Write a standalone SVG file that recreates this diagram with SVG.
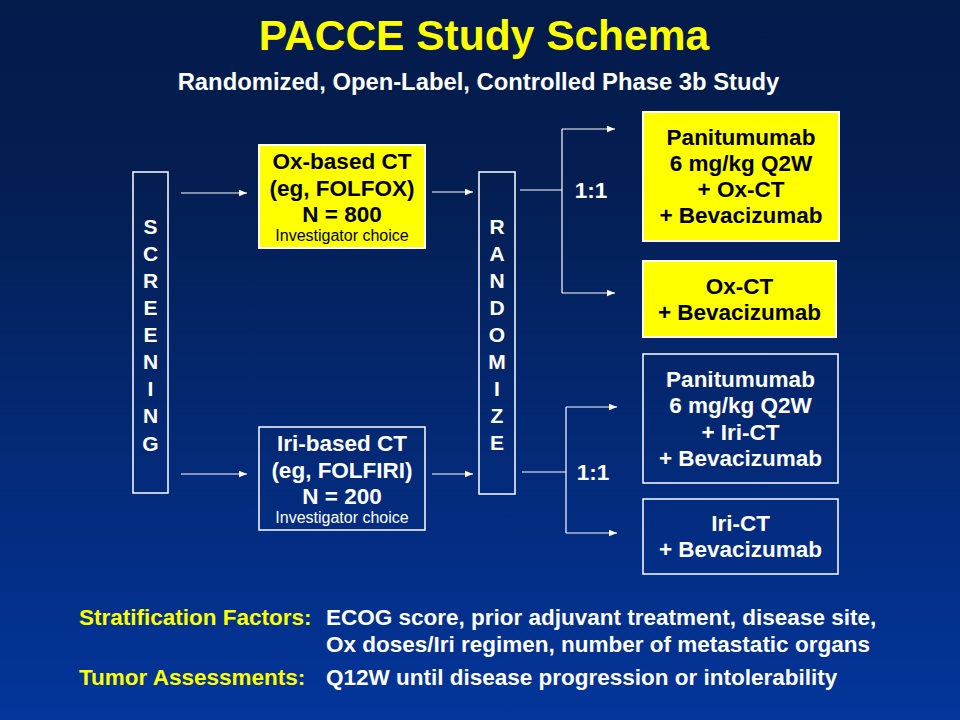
<svg xmlns="http://www.w3.org/2000/svg" width="960" height="720" viewBox="0 0 960 720">
<defs>
<linearGradient id="bg" x1="0" y1="0" x2="0" y2="1">
<stop offset="0" stop-color="#031b4b"/>
<stop offset="0.25" stop-color="#041e52"/>
<stop offset="1" stop-color="#03359b"/>
</linearGradient>
<marker id="ah" viewBox="0 0 10 10" refX="10" refY="5" markerWidth="8" markerHeight="8" markerUnits="userSpaceOnUse" orient="auto">
<path d="M0,1 L10,5 L0,9 z" fill="#ffffff"/>
</marker>
<style>
text{font-family:"Liberation Sans",Arial,sans-serif;font-weight:bold;}
.t{fill:#ffffff;font-size:22.5px;text-anchor:middle;}
.k{fill:#000000;font-size:22.5px;text-anchor:middle;}
.l{fill:#ffffff;font-size:21px;text-anchor:middle;}
.small{font-weight:normal;font-size:16px;}
.y{fill:#ffff00;stroke:#ffffff;stroke-width:2;}
.o{fill:none;stroke:#ffffff;stroke-width:1.5;}
.c{fill:none;stroke:#ffffff;stroke-width:1.2;}
.lt{fill:#ffff00;font-size:22.5px;}
.lw{fill:#ffffff;font-size:22.5px;}
</style>
</defs>
<rect width="960" height="720" fill="url(#bg)"/>
<text x="484" y="50" style="fill:#ffff00;font-size:42.5px;text-anchor:middle">PACCE Study Schema</text>
<text x="478.5" y="90" style="fill:#ffffff;font-size:23.8px;text-anchor:middle">Randomized, Open-Label, Controlled Phase 3b Study</text>

<g id="connectors">
<line class="c" x1="181" y1="193" x2="247" y2="193" marker-end="url(#ah)"/>
<line class="c" x1="181" y1="474" x2="247" y2="474" marker-end="url(#ah)"/>
<line class="c" x1="432" y1="192" x2="473" y2="192" marker-end="url(#ah)"/>
<line class="c" x1="432" y1="474" x2="473" y2="474" marker-end="url(#ah)"/>
<polyline class="c" points="520,190 562,190"/>
<polyline class="c" points="562,129 562,293"/>
<line class="c" x1="562" y1="129" x2="615" y2="129" marker-end="url(#ah)"/>
<line class="c" x1="562" y1="293" x2="615" y2="293" marker-end="url(#ah)"/>
<polyline class="c" points="522,472 566,472"/>
<polyline class="c" points="566,407 566,533"/>
<line class="c" x1="566" y1="407" x2="617" y2="407" marker-end="url(#ah)"/>
<line class="c" x1="566" y1="533" x2="617" y2="533" marker-end="url(#ah)"/>
<text x="591" y="198" class="t">1:1</text>
<text x="593" y="480" class="t">1:1</text>
</g>

<g id="screening">
<rect class="o" x="133" y="172" width="35" height="321"/>
<text class="l" x="150.5" y="234">S</text>
<text class="l" x="150.5" y="261">C</text>
<text class="l" x="150.5" y="288">R</text>
<text class="l" x="150.5" y="315">E</text>
<text class="l" x="150.5" y="342">E</text>
<text class="l" x="150.5" y="369">N</text>
<text class="l" x="150.5" y="396">I</text>
<text class="l" x="150.5" y="423">N</text>
<text class="l" x="150.5" y="451">G</text>
</g>

<g id="ox-based">
<rect class="y" x="259" y="145" width="166" height="103"/>
<text class="k" x="342" y="169">Ox-based CT</text>
<text class="k" x="342" y="196">(eg, FOLFOX)</text>
<text class="k" x="342" y="222">N = 800</text>
<text class="k small" x="342" y="241">Investigator choice</text>
</g>

<g id="iri-based">
<rect class="o" x="259" y="427" width="166" height="103"/>
<text class="t" x="342" y="451">Iri-based CT</text>
<text class="t" x="342" y="478">(eg, FOLFIRI)</text>
<text class="t" x="342" y="504">N = 200</text>
<text class="t small" x="342" y="523">Investigator choice</text>
</g>

<g id="randomize">
<rect class="o" x="479" y="172" width="36" height="322"/>
<text class="l" x="497" y="234">R</text>
<text class="l" x="497" y="261">A</text>
<text class="l" x="497" y="288">N</text>
<text class="l" x="497" y="315">D</text>
<text class="l" x="497" y="342">O</text>
<text class="l" x="497" y="369">M</text>
<text class="l" x="497" y="396">I</text>
<text class="l" x="497" y="423">Z</text>
<text class="l" x="497" y="450">E</text>
</g>

<g id="arm-pan-ox">
<rect class="y" x="643" y="112" width="196" height="129"/>
<text class="k" x="741" y="145">Panitumumab</text>
<text class="k" x="741" y="171">6 mg/kg Q2W</text>
<text class="k" x="741" y="197">+ Ox-CT</text>
<text class="k" x="741" y="223">+ Bevacizumab</text>
</g>

<g id="arm-ox">
<rect class="y" x="643" y="261" width="193" height="76"/>
<text class="k" x="739.5" y="294">Ox-CT</text>
<text class="k" x="739.5" y="320">+ Bevacizumab</text>
</g>

<g id="arm-pan-iri">
<rect class="o" x="643" y="354" width="195" height="129"/>
<text class="t" x="740.5" y="387">Panitumumab</text>
<text class="t" x="740.5" y="413">6 mg/kg Q2W</text>
<text class="t" x="740.5" y="440">+ Iri-CT</text>
<text class="t" x="740.5" y="466">+ Bevacizumab</text>
</g>

<g id="arm-iri">
<rect class="o" x="643" y="499" width="195" height="75"/>
<text class="t" x="740.5" y="531">Iri-CT</text>
<text class="t" x="740.5" y="557">+ Bevacizumab</text>
</g>

<g id="notes">
<text class="lt" x="79" y="625">Stratification Factors:</text>
<text class="lw" x="326" y="625">ECOG score, prior adjuvant treatment, disease site,</text>
<text class="lw" x="326" y="652">Ox doses/Iri regimen, number of metastatic organs</text>
<text class="lt" x="79" y="685">Tumor Assessments:</text>
<text class="lw" x="326" y="685">Q12W until disease progression or intolerability</text>
</g>
</svg>
